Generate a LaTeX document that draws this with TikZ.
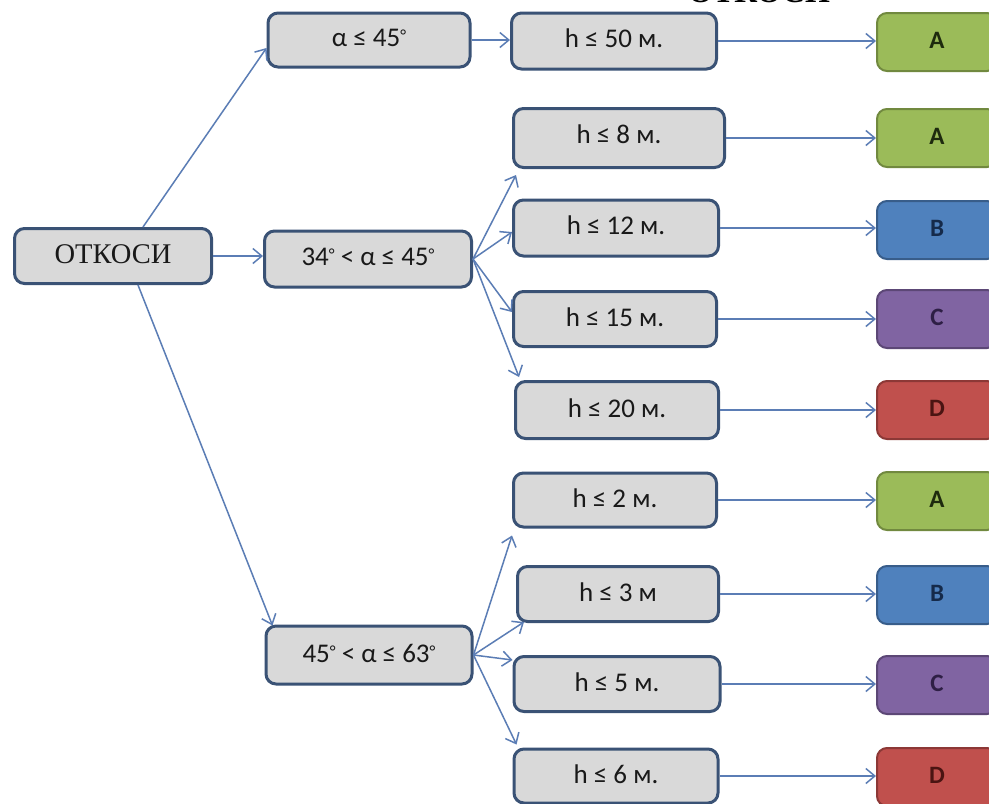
\documentclass[tikz,border=0pt]{standalone}
\usepackage{fontspec}
\setmainfont{Carlito}
\newfontfamily\serifcyr{Liberation Serif}
\usetikzlibrary{arrows.meta,calc}
\definecolor{boxfill}{HTML}{D9D9D9}
\definecolor{boxedge}{HTML}{3A5275}
\definecolor{arr}{HTML}{5B7DB5}
\definecolor{gfill}{HTML}{9BBB59}
\definecolor{gedge}{HTML}{71893F}
\definecolor{gtext}{HTML}{1E2A0E}
\definecolor{bfill}{HTML}{4F81BD}
\definecolor{bedge}{HTML}{385D8A}
\definecolor{btext}{HTML}{152A4A}
\definecolor{pfill}{HTML}{8064A2}
\definecolor{pedge}{HTML}{5C4776}
\definecolor{ptext}{HTML}{2E1F45}
\definecolor{rfill}{HTML}{C0504D}
\definecolor{redge}{HTML}{8C3836}
\definecolor{rtext}{HTML}{4A1412}
\newcommand{\dgr}{{\fontsize{17}{17}\selectfont\raisebox{0.3em}{°}}}
\begin{document}
\begin{tikzpicture}[x=1pt,y=-1pt,
  gbox/.style={draw=boxedge, fill=boxfill, line width=3pt, rounded corners=10pt,
    inner sep=0pt, align=center, text=black!90, font=\fontsize{27}{30}\selectfont},
  cbox/.style={line width=2pt, rounded corners=10pt, inner sep=0pt,
    minimum width=120pt, minimum height=58pt, font=\fontsize{25}{28}\selectfont\bfseries},
  abox/.style={cbox, draw=gedge, fill=gfill, text=gtext},
  bbox/.style={cbox, draw=bedge, fill=bfill, text=btext},
  pbox/.style={cbox, draw=pedge, fill=pfill, text=ptext},
  rbox/.style={cbox, draw=redge, fill=rfill, text=rtext},
  conn/.style={draw=arr, line width=1.5pt, -{Straight Barb[length=9pt,width=15pt,line width=1.5pt]}}
]
\useasboundingbox (0,0) rectangle (989,804);
\clip (0,0) rectangle (989,804);
\fill[white] (0,0) rectangle (989,804);

% title (cut off at the top, as in the reference)
\node[anchor=base, inner sep=0pt, font=\serifcyr\bfseries\fontsize{32}{36}\selectfont] (title) at (759,2) {ОТКОСИ};

% left column
\node[gbox, minimum width=197pt, minimum height=55pt, font=\serifcyr\fontsize{28.5}{30}\selectfont] (otk) at (113,256) {\raisebox{3pt}{ОТКОСИ}};

% second column
\node[gbox, minimum width=202pt, minimum height=54pt] (a1) at (369,40) {\raisebox{4pt}{α ≤ 45\dgr}};
\node[gbox, minimum width=207pt, minimum height=56pt] (a2) at (368,259) {\raisebox{4pt}{34\dgr{} < α ≤ 45\dgr}};
\node[gbox, minimum width=206pt, minimum height=58pt] (a3) at (369,655) {\raisebox{4pt}{45\dgr{} < α ≤ 63\dgr}};

% third column
\node[gbox, minimum width=205pt, minimum height=56pt] (h50) at (614,41) {\raisebox{5pt}{h ≤ 50 м.}};
\node[gbox, minimum width=211pt, minimum height=59pt] (h8) at (619,138) {\raisebox{8pt}{h ≤ 8 м.}};
\node[gbox, minimum width=205pt, minimum height=56pt] (h12) at (616,228) {\raisebox{6pt}{h ≤ 12 м.}};
\node[gbox, minimum width=203pt, minimum height=55pt] (h15) at (615,319) {\raisebox{4pt}{h ≤ 15 м.}};
\node[gbox, minimum width=203pt, minimum height=57pt] (h20) at (617,410) {\raisebox{4pt}{h ≤ 20 м.}};
\node[gbox, minimum width=203pt, minimum height=54pt] (h2) at (615,500) {\raisebox{4pt}{h ≤ 2 м.}};
\node[gbox, minimum width=201pt, minimum height=55pt] (h3) at (618,594) {\raisebox{4pt}{h ≤ 3 м}};
\node[gbox, minimum width=206pt, minimum height=55pt] (h5) at (617,684) {\raisebox{4pt}{h ≤ 5 м.}};
\node[gbox, minimum width=204pt, minimum height=54pt] (h6) at (616,776) {\raisebox{4pt}{h ≤ 6 м.}};

% right column
\node[abox] (r1) at (937,42) {\raisebox{4pt}{A}};
\node[abox] (r2) at (937,138) {\raisebox{4pt}{A}};
\node[bbox] (r3) at (937,230) {\raisebox{4pt}{B}};
\node[pbox] (r4) at (937,319) {\raisebox{4pt}{C}};
\node[rbox] (r5) at (937,410) {\raisebox{4pt}{D}};
\node[abox] (r6) at (937,501) {\raisebox{4pt}{A}};
\node[bbox] (r7) at (937,595) {\raisebox{4pt}{B}};
\node[pbox] (r8) at (937,685) {\raisebox{4pt}{C}};
\node[rbox] (r9) at (937,777) {\raisebox{4pt}{D}};

% connectors from the root
\draw[conn] ($(otk.north)+(30,0)$) -- ($(a1.west)+(0,8)$);
\draw[conn] (otk.east) -- (otk.east -| a2.west);
\draw[conn] ($(otk.south)+(25,0)$) -- ($(a3.north west)+(8,1)$);

% second level
\draw[conn] (a1.east) -- (a1.east -| h50.west);
\draw[conn] (a2.east) -- ($(h8.south west)+(4,6)$);
\draw[conn] (a2.east) -- ($(h12.west)+(0,4)$);
\draw[conn] (a2.east) -- ($(h15.west)+(0,-7)$);
\draw[conn] (a2.east) -- ($(h20.north west)+(5,-3)$);
\draw[conn] (a3.east) -- ($(h2.south west)+(0,7)$);
\draw[conn] (a3.east) -- ($(h3.south west)+(8,-1)$);
\draw[conn] (a3.east) -- ($(h5.north west)+(0,5)$);
\draw[conn] (a3.east) -- ($(h6.north west)+(4,-3)$);

% third level
\draw[conn] (h50.east) -- (h50.east -| r1.west);
\draw[conn] (h8.east) -- (h8.east -| r2.west);
\draw[conn] (h12.east) -- (h12.east -| r3.west);
\draw[conn] (h15.east) -- (h15.east -| r4.west);
\draw[conn] (h20.east) -- (h20.east -| r5.west);
\draw[conn] (h2.east) -- (h2.east -| r6.west);
\draw[conn] (h3.east) -- (h3.east -| r7.west);
\draw[conn] (h5.east) -- (h5.east -| r8.west);
\draw[conn] (h6.east) -- (h6.east -| r9.west);
\end{tikzpicture}
\end{document}
